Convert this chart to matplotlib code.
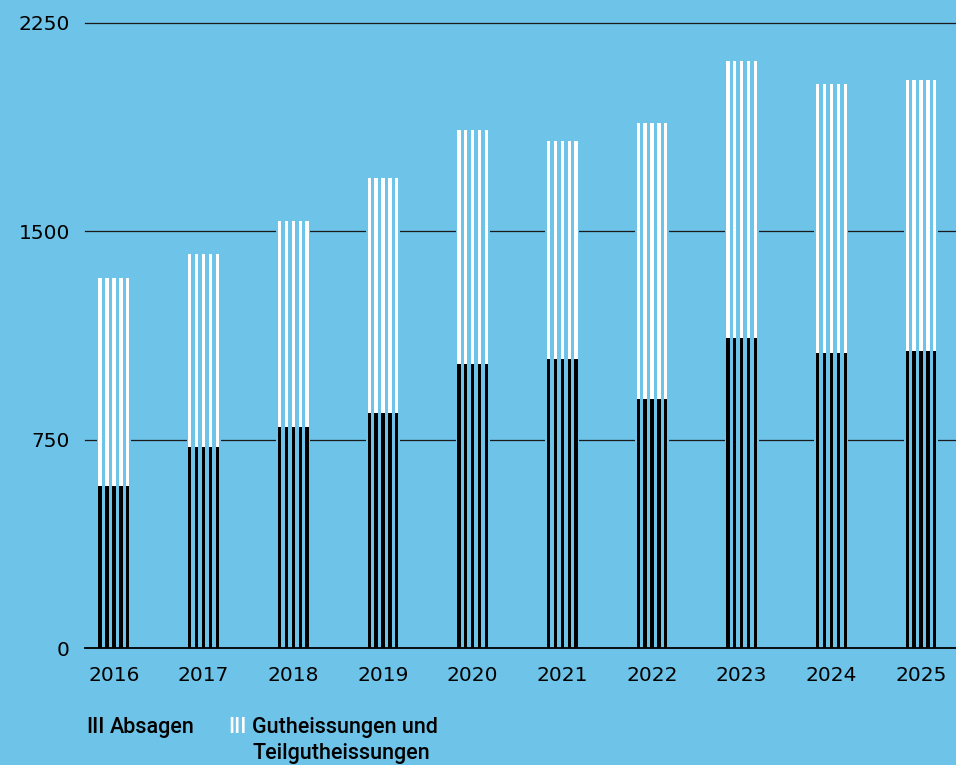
import numpy as np
import matplotlib
matplotlib.use("Agg")
import matplotlib.pyplot as plt

years = ["2016", "2017", "2018", "2019", "2020", "2021", "2022", "2023", "2024", "2025"]
absagen = [583, 724, 796, 846, 1022, 1040, 896, 1116, 1062, 1069]
totals = [1332, 1418, 1537, 1692, 1865, 1825, 1890, 2113, 2030, 2045]
gutheissungen = [t - a for t, a in zip(totals, absagen)]
yticks = [0, 750, 1500, 2250]

bg = "#6dc3e8"

fig = plt.figure(figsize=(9.56, 7.65), dpi=100, facecolor=bg)
ax = fig.add_axes([85 / 956, 1 - 648 / 765, 871 / 956, 625 / 765])
ax.set_facecolor(bg)

x = np.arange(len(years))

# grid lines, broken around the bars by a background-coloured mask
for v in yticks[1:]:
    ax.axhline(v, color="#1a1a1a", lw=0.9, zorder=1, clip_on=False)
ax.bar(x, totals, width=0.38, color=bg, zorder=2)

pitch = 0.077
sw = 0.037
for k in range(-2, 3):
    ax.bar(x + k * pitch, absagen, width=sw, color="black", zorder=3, linewidth=0)
    ax.bar(x + k * pitch, gutheissungen, bottom=absagen, width=sw,
           color="white", zorder=3, linewidth=0)

ax.axhline(0, color="black", lw=1.3, zorder=4, clip_on=False)

ax.set_xlim(-0.323, 9.39)
ax.set_ylim(0, 2250)
for s in ax.spines.values():
    s.set_visible(False)

ax.set_xticks(x, labels=years)
ax.set_yticks(yticks, labels=[str(v) for v in yticks])
ax.tick_params(length=0, labelsize=14.5, colors="black")
ax.tick_params(axis="x", pad=13)
ax.tick_params(axis="y", pad=11)

lf = dict(family=["Roboto", "DejaVu Sans"], fontweight="medium", fontsize=15.5,
          va="baseline", ha="left")
fig.text(86 / 956, 1 - 733 / 765, "III", color="black", **lf)
fig.text(110 / 956, 1 - 733 / 765, "Absagen", color="black", **lf)
fig.text(228 / 956, 1 - 733 / 765, "III", color="white", **lf)
fig.text(252 / 956, 1 - 733 / 765, "Gutheissungen und", color="black", **lf)
fig.text(252 / 956, 1 - 759 / 765, "Teilgutheissungen", color="black", **lf)

fig.savefig("out.png", dpi=100, facecolor=bg)
